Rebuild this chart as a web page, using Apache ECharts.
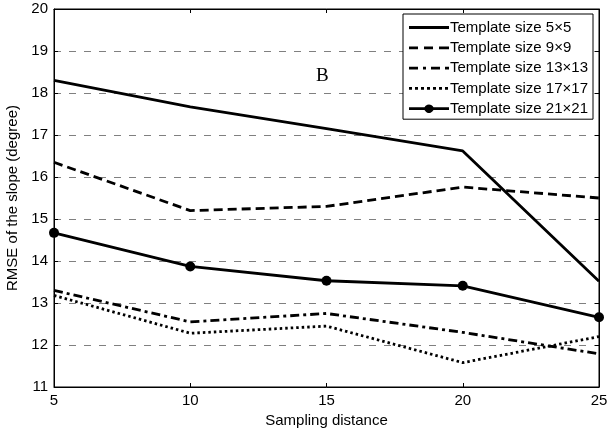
<!DOCTYPE html>
<html>
<head>
    <meta charset="UTF-8">
    <title>RMSE of the slope</title>
    <script src="https://cdn.jsdelivr.net/npm/echarts/dist/echarts.min.js"></script>
</head>
<body style="margin:0;background:#fff;">
    <div id="chart" style="width: 614px;height:429px;"></div>
    <script type="text/javascript">
        // Sampling distance on the x axis
        var distances = [5, 10, 15, 20, 25];
        // RMSE values per template size
        var size5 = [18.3, 17.67, 17.15, 16.62, 13.52];
        var size9 = [16.35, 15.2, 15.3, 15.76, 15.5];
        var size13 = [13.3, 12.55, 12.75, 12.3, 11.79];
        var size17 = [13.18, 12.28, 12.45, 11.58, 12.2];
        var size21 = [14.67, 13.87, 13.53, 13.41, 12.66];
        var seriesNames = ['Template size 5\u00d75', 'Template size 9\u00d79', 'Template size 13\u00d713',
            'Template size 17\u00d717', 'Template size 21\u00d721'];

        function pairs(values) {
            return distances.map(function (d, i) { return [d, values[i]]; });
        }

        // legend icons: 40x10 box, line drawn in the middle (tiny corner dots keep the box size)
        var box = 'M0,0h0.01v0.01h-0.01Z M39.99,9.99h0.01v0.01h-0.01Z ';
        function dashPath(segs) {
            var p = box;
            segs.forEach(function (s) { p += 'M' + s[0] + ',3.6H' + s[1] + 'V6.4H' + s[0] + 'Z '; });
            return 'path://' + p;
        }
        var icons = [
            dashPath([[0, 40]]),
            dashPath([[0, 9], [15, 24], [30, 40]]),
            dashPath([[0, 9], [14, 17], [22, 31], [36, 40]]),
            dashPath([[0, 3], [6, 9], [12, 15], [18, 21], [24, 27], [30, 33], [36, 39]]),
            'path://' + box + 'M0,3.6H15.5A5,5 0 0 1 24.5,3.6H40V6.4H24.5A5,5 0 0 1 15.5,6.4H0Z'
        ];

        var myChart = echarts.init(document.getElementById('chart'));
        var font = 'Liberation Sans, Arial, sans-serif';

        function lineSeries(name, values, dash, withSymbol) {
            return {
                name: name,
                type: 'line',
                data: pairs(values),
                symbol: withSymbol ? 'circle' : 'none',
                symbolSize: 10,
                showSymbol: withSymbol,
                itemStyle: { color: '#000' },
                lineStyle: { color: '#000', width: 2.8, type: dash },
                animation: false
            };
        }

        var option = {
            backgroundColor: '#fff',
            textStyle: { fontFamily: font },
            title: {
                text: 'B',
                left: 311,
                top: 62,
                textStyle: { fontFamily: 'Liberation Serif, Times New Roman, serif', fontSize: 19, fontWeight: 'normal', color: '#000' }
            },
            legend: {
                orient: 'vertical',
                left: 403,
                top: 14,
                padding: [5, 5, 2, 6],
                itemGap: 3.3,
                itemWidth: 40,
                itemHeight: 10,
                borderColor: '#000',
                borderWidth: 1,
                backgroundColor: '#fff',
                itemStyle: { color: '#000' },
                textStyle: { fontFamily: font, fontSize: 15, color: '#000', padding: [0, 0, 0, -4], lineHeight: 17 },
                data: seriesNames.map(function (n, i) { return { name: n, icon: icons[i] }; })
            },
            grid: {
                left: 54,
                right: 15,
                top: 9,
                bottom: 42,
                outerBoundsMode: 'none',
                show: true,
                borderColor: '#000',
                borderWidth: 1
            },
            xAxis: [
                {
                    type: 'value',
                    min: 5,
                    max: 25,
                    interval: 5,
                    name: 'Sampling distance',
                    nameLocation: 'middle',
                    nameGap: 23,
                    nameTextStyle: { fontFamily: font, fontSize: 15, color: '#000' },
                    axisLine: { lineStyle: { color: '#000' } },
                    axisTick: { inside: true, length: 4, lineStyle: { color: '#000' } },
                    axisLabel: { fontFamily: font, fontSize: 15, color: '#000', margin: 6 },
                    splitLine: { show: false }
                },
                {
                    type: 'value',
                    position: 'top',
                    min: 5,
                    max: 25,
                    interval: 5,
                    axisLine: { lineStyle: { color: '#000' } },
                    axisTick: { inside: true, length: 4, lineStyle: { color: '#000' } },
                    axisLabel: { show: false },
                    splitLine: { show: false }
                }
            ],
            yAxis: [
                {
                    type: 'value',
                    min: 11,
                    max: 20,
                    interval: 1,
                    name: 'RMSE of the slope (degree)',
                    nameLocation: 'middle',
                    nameGap: 27,
                    nameTextStyle: { fontFamily: font, fontSize: 15, color: '#000' },
                    axisLine: { lineStyle: { color: '#000' } },
                    axisTick: { inside: true, length: 4, lineStyle: { color: '#000' } },
                    axisLabel: { fontFamily: font, fontSize: 15, color: '#000', margin: 6 },
                    splitLine: { show: true, lineStyle: { color: '#808080', type: [7, 8], width: 1 } }
                },
                {
                    type: 'value',
                    position: 'right',
                    min: 11,
                    max: 20,
                    interval: 1,
                    axisLine: { show: true, lineStyle: { color: '#000' } },
                    axisTick: { show: true, inside: true, length: 4, lineStyle: { color: '#000' } },
                    axisLabel: { show: false },
                    splitLine: { show: false }
                }
            ],
            series: [
                lineSeries(seriesNames[0], size5, 'solid', false),
                lineSeries(seriesNames[1], size9, [9, 5], false),
                lineSeries(seriesNames[2], size13, [9, 4, 3, 4], false),
                lineSeries(seriesNames[3], size17, [2.5, 3], false),
                lineSeries(seriesNames[4], size21, 'solid', true)
            ]
        };

        myChart.setOption(option);
    </script>
</body>
</html>
